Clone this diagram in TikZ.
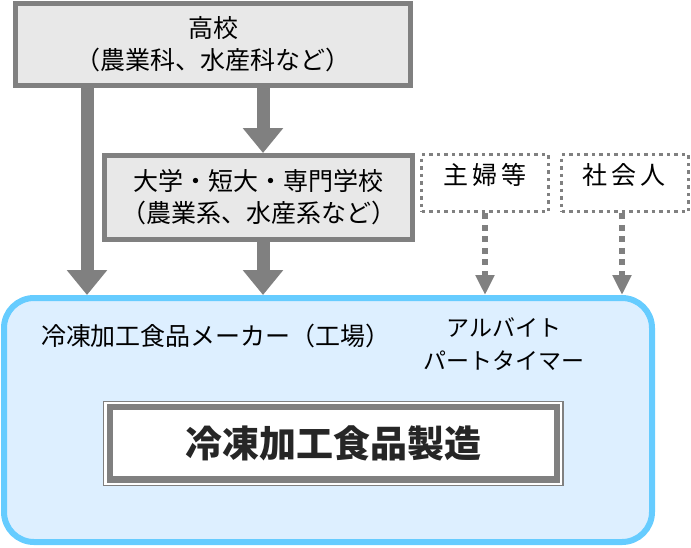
\documentclass[tikz,border=0pt]{standalone}
\usepackage{fontspec}
\setmainfont{Noto Sans CJK JP}
\usetikzlibrary{arrows.meta}
\definecolor{bordergray}{HTML}{808080}
\definecolor{boxgray}{HTML}{E8E8E8}
\definecolor{bigblue}{HTML}{66CCFF}
\definecolor{bigfill}{HTML}{DDEFFF}
\begin{document}
\begin{tikzpicture}[x=1pt,y=-1pt,
  txt/.style={font=\fontsize{25}{32}\selectfont, align=center, inner sep=0pt},
  graybox/.style={draw=bordergray, line width=5pt, fill=boxgray, inner sep=0pt, txt},
  dotbox/.style={draw=bordergray, line width=3.5pt, dash pattern=on 3.5pt off 4pt, inner sep=0pt, minimum width=127pt, minimum height=57pt},
  bigarrow/.style={draw=bordergray, line width=13pt, -{Triangle[width=39pt,length=25pt]}},
  dotarrow/.style={draw=bordergray, line width=5.5pt, dash pattern=on 6pt off 5.5pt, -{Triangle[width=18pt,length=20pt]}}
]
\useasboundingbox (0,0) rectangle (691,547);

% big container
\node[draw=bigblue, line width=6pt, fill=bigfill, rounded corners=30pt,
      minimum width=648pt, minimum height=244pt, inner sep=0pt] (mk) at (328,420) {};

% top boxes
\node[graybox, minimum width=395pt, minimum height=82.5pt] (hs) at (213,44.25)
  {高校\\（農業科、水産科など）};
\node[graybox, minimum width=308pt, minimum height=84pt] (dg) at (258.5,197.5)
  {大学・短大・専門学校\\（農業系、水産系など）};

\node[dotbox] (sf) at (485,183) {};
\node[txt] (sft) at (485,175) {主\kern4pt 婦\kern4pt 等};
\node[dotbox] (sa) at (625,183) {};
\node[txt] (sat) at (624,175) {社\kern4pt 会\kern4pt 人};

% labels in container
\node[txt] (mkl) at (216,336) {冷凍加工食品メーカー（工場）};
\node[txt, font=\fontsize{23}{33}\selectfont] (pt) at (504,344) {アルバイト\\パートタイマー};

% production box
\node[draw=bordergray, line width=1.2pt, fill=white, inner sep=0pt,
      minimum width=459.5pt, minimum height=84pt] (pframe) at (333.25,443.5) {};
\node[draw=bordergray, line width=6.5pt, fill=white, inner sep=0pt,
      minimum width=447pt, minimum height=72.5pt,
      font=\fontsize{37}{40}\selectfont\bfseries, text=black!85] (prod) at (333.5,443.25) {冷凍加工食品製造};

% arrows
\coordinate (c1) at (87,0);
\coordinate (c2) at (263,0);
\coordinate (c4) at (622,0);
\draw[bigarrow] (hs.south -| c1) -- (mk.north -| c1);
\draw[bigarrow] (hs.south -| c2) -- (dg.north -| c2);
\draw[bigarrow] (dg.south -| c2) -- (mk.north -| c2);
\draw[dotarrow] (sf.south) -- (mk.north -| sf.south);
\draw[dotarrow] (sa.south -| c4) -- (mk.north -| c4);
\end{tikzpicture}
\end{document}
